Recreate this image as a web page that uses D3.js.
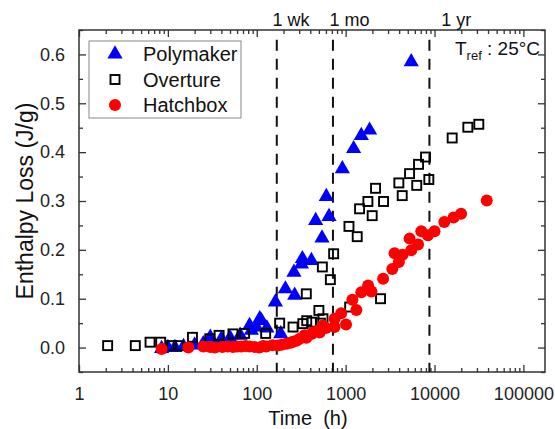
<!DOCTYPE html>
<html>
<head>
<meta charset="utf-8">
<script src="https://cdn.jsdelivr.net/npm/d3@7"></script>
<style>
  body { margin: 0; background: #fff; }
  svg { display: block; font-family: Arial, "Liberation Sans", sans-serif; }
</style>
</head>
<body>
<script>
// data: [time (h), enthalpy loss (J/g)]
var polymaker = [
  [8.5, -0.002], [10, 0.0], [12, 0.0], [15, 0.002], [20, 0.005], [25, 0.008], [30, 0.021],
  [40, 0.018], [50, 0.02], [65, 0.025], [83, 0.045], [87, 0.035], [99, 0.042], [108, 0.059],
  [113, 0.055], [130, 0.04], [162, 0.093], [186, 0.028], [210, 0.12], [262, 0.154],
  [267, 0.107], [318, 0.171], [326, 0.182], [412, 0.178], [460, 0.26], [542, 0.224],
  [606, 0.309], [650, 0.268], [918, 0.366], [1230, 0.407], [1500, 0.434], [1860, 0.445],
  [5470, 0.585]
]

var overture = [
  [2.1, 0.004], [4.3, 0.004], [6.3, 0.011], [8.3, 0.011], [11, 0.004], [13.1, 0.004],
  [18.9, 0.021], [29.6, 0.018], [37.7, 0.025], [54, 0.028], [73, 0.029], [126, 0.029],
  [181, 0.05], [256, 0.042], [330, 0.049], [361, 0.11], [365, 0.055], [418, 0.052],
  [500, 0.076], [520, 0.05], [547, 0.165], [556, 0.059], [673, 0.139], [733, 0.192],
  [1090, 0.248], [1110, 0.083], [1350, 0.227], [1435, 0.284], [1780, 0.299], [1990, 0.27],
  [2170, 0.326], [2470, 0.1], [2670, 0.299], [3970, 0.337], [4330, 0.311], [5240, 0.356],
  [6310, 0.332], [6610, 0.375], [7920, 0.39], [8630, 0.344], [15800, 0.429],
  [23700, 0.451], [31500, 0.457]
]

var hatchbox = [
  [8.5, -0.003], [17, 0.0], [25, 0.002], [30, 0.001], [34, 0.0], [41, 0.001], [47, 0.002],
  [54, 0.001], [60, 0.002], [67, 0.002], [75, 0.003], [83, 0.002], [95, 0.001], [107, 0.0],
  [118, 0.003], [128, 0.002], [150, 0.005], [172, 0.004], [190, 0.006], [215, 0.008],
  [240, 0.01], [256, 0.012], [280, 0.014], [305, 0.018], [345, 0.025], [362, 0.02],
  [412, 0.028], [430, 0.031], [490, 0.035], [510, 0.031], [556, 0.045], [600, 0.04],
  [750, 0.042], [750, 0.059], [890, 0.07], [1010, 0.047], [1190, 0.098], [1320, 0.077],
  [1500, 0.113], [1790, 0.127], [1950, 0.115], [2640, 0.141], [3350, 0.161], [3550, 0.193],
  [3970, 0.175], [4370, 0.19], [5240, 0.223], [5470, 0.199], [6530, 0.211], [7100, 0.238],
  [8410, 0.23], [10000, 0.238], [12900, 0.257], [16400, 0.266], [19900, 0.274],
  [38700, 0.301]
]

var seriesNames = ['Polymaker', 'Overture', 'Hatchbox']
var xTickValues = [1, 10, 100, 1000, 10000, 100000]
var yTickValues = [0, 0.1, 0.2, 0.3, 0.4, 0.5, 0.6]

// reference times: 1 week, 1 month, 1 year (h), with where their labels start
var markTimes = [168, 720, 8760]
var markLabels = ['1 wk', '1 mo', '1 yr']
var markLabelAt = [150, 660, 11900]

var W = 555, H = 429
var margin = {top: 30, right: 10, bottom: 57, left: 79}
var width = W - margin.left - margin.right,
    height = H - margin.top - margin.bottom

var xScale = d3.scaleLog().domain([1, 175000]).range([0, width])
var yScale = d3.scaleLinear().domain([-0.05, 0.65]).range([height, 0])

var svg = d3.select('body').append('svg')
  .attr('width', W)
  .attr('height', H)

var g = svg.append('g')
  .attr('transform', 'translate(' + margin.left + ',' + margin.top + ')')

var axisColor = '#333'

// minor tick values
var xMinor = []
for (var p = 0; p < 6; p++) {
  for (var k = 2; k <= 9; k++) {
    var v = k * Math.pow(10, p)
    if (v < 175000) xMinor.push(v)
  }
}
var yMinor = [-0.05, 0.05, 0.15, 0.25, 0.35, 0.45, 0.55, 0.65]

function styleAxis(sel) {
  sel.select('.domain').remove()
  sel.selectAll('.tick line').attr('stroke', axisColor).attr('stroke-width', 1.3)
  sel.selectAll('.tick text')
    .attr('fill', '#222')
    .style('font-size', '18px')
}

// bottom axis
g.append('g')
  .attr('transform', 'translate(0,' + height + ')')
  .call(d3.axisBottom(xScale).tickValues(xTickValues).tickFormat(d3.format('d'))
    .tickSizeInner(-7).tickSizeOuter(0).tickPadding(15))
  .call(styleAxis)

g.append('g')
  .attr('transform', 'translate(0,' + height + ')')
  .call(d3.axisBottom(xScale).tickValues(xMinor).tickFormat('').tickSizeInner(-4).tickSizeOuter(0))
  .call(styleAxis)

// top axis (mirrored ticks)
g.append('g')
  .call(d3.axisTop(xScale).tickValues(xTickValues).tickFormat('').tickSizeInner(-7).tickSizeOuter(0))
  .call(styleAxis)
g.append('g')
  .call(d3.axisTop(xScale).tickValues(xMinor).tickFormat('').tickSizeInner(-4).tickSizeOuter(0))
  .call(styleAxis)

// left axis
g.append('g')
  .call(d3.axisLeft(yScale).tickValues(yTickValues).tickFormat(d3.format('.1f'))
    .tickSizeInner(-7).tickSizeOuter(0).tickPadding(14))
  .call(styleAxis)
g.append('g')
  .call(d3.axisLeft(yScale).tickValues(yMinor).tickFormat('').tickSizeInner(-4).tickSizeOuter(0))
  .call(styleAxis)

// right axis
g.append('g')
  .attr('transform', 'translate(' + width + ',0)')
  .call(d3.axisRight(yScale).tickValues(yTickValues).tickFormat('').tickSizeInner(-7).tickSizeOuter(0))
  .call(styleAxis)
g.append('g')
  .attr('transform', 'translate(' + width + ',0)')
  .call(d3.axisRight(yScale).tickValues(yMinor).tickFormat('').tickSizeInner(-4).tickSizeOuter(0))
  .call(styleAxis)

// frame
g.append('rect')
  .attr('width', width)
  .attr('height', height)
  .attr('fill', 'none')
  .attr('stroke', axisColor)
  .attr('stroke-width', 1.5)

// dashed reference lines
g.selectAll('.mark')
  .data(markTimes)
  .enter().append('line')
  .attr('class', 'mark')
  .attr('x1', function(d) { return xScale(d) })
  .attr('x2', function(d) { return xScale(d) })
  .attr('y1', yScale(0.63))
  .attr('y2', height)
  .attr('stroke', '#111')
  .attr('stroke-width', 2)
  .attr('stroke-dasharray', '11,8')

g.selectAll('.markLabel')
  .data(markLabels)
  .enter().append('text')
  .attr('class', 'markLabel')
  .attr('x', function(d, i) { return xScale(markLabelAt[i]) })
  .attr('y', -4)
  .style('font-size', '18px')
  .attr('fill', '#111')
  .text(function(d) { return d })

// points
var tri = d3.symbol().type(d3.symbolTriangle).size(100)

g.append('g').selectAll('path')
  .data(polymaker)
  .enter().append('path')
  .attr('d', tri)
  .attr('transform', function(d) { return 'translate(' + xScale(d[0]) + ',' + yScale(d[1]) + ')' })
  .attr('fill', '#0000ff')

g.append('g').selectAll('rect')
  .data(overture)
  .enter().append('rect')
  .attr('x', function(d) { return xScale(d[0]) - 4.5 })
  .attr('y', function(d) { return yScale(d[1]) - 4.5 })
  .attr('width', 9)
  .attr('height', 9)
  .attr('fill', 'none')
  .attr('stroke', '#000')
  .attr('stroke-width', 1.9)

g.append('g').selectAll('circle')
  .data(hatchbox)
  .enter().append('circle')
  .attr('cx', function(d) { return xScale(d[0]) })
  .attr('cy', function(d) { return yScale(d[1]) })
  .attr('r', 6)
  .attr('fill', '#ff0000')

// legend
var legend = svg.append('g').attr('transform', 'translate(89,41)')
legend.append('rect')
  .attr('width', 152)
  .attr('height', 77)
  .attr('fill', '#fff')
  .attr('stroke', '#888')
  .attr('stroke-width', 1)

var legendRows = legend.selectAll('.row')
  .data(seriesNames)
  .enter().append('g')
  .attr('class', 'row')
  .attr('transform', function(d, i) { return 'translate(26,' + (13 + i * 25.5) + ')' })

legendRows.each(function(d, i) {
  var row = d3.select(this)
  if (i === 0) {
    row.append('path').attr('d', tri).attr('fill', '#0000ff')
  } else if (i === 1) {
    row.append('rect').attr('x', -4.5).attr('y', -4.5).attr('width', 9).attr('height', 9)
      .attr('fill', 'none').attr('stroke', '#000').attr('stroke-width', 1.9)
  } else {
    row.append('circle').attr('r', 6).attr('fill', '#ff0000')
  }
  row.append('text')
    .attr('x', 28)
    .attr('y', 7)
    .style('font-size', '20px')
    .attr('fill', '#111')
    .text(d)
})

// T_ref note
var tref = svg.append('text')
  .attr('x', 455)
  .attr('y', 55)
  .style('font-size', '19px')
  .attr('fill', '#111')
tref.append('tspan').text('T')
tref.append('tspan').attr('dy', 5).style('font-size', '13px').text('ref')
tref.append('tspan').attr('dy', -5).text(' : 25°C')

// axis titles
svg.append('text')
  .attr('x', 308)
  .attr('y', 425)
  .attr('text-anchor', 'middle')
  .style('font-size', '20px')
  .style('white-space', 'pre')
  .attr('fill', '#111')
  .text('Time  (h)')

svg.append('text')
  .attr('transform', 'translate(33,201) rotate(-90)')
  .attr('text-anchor', 'middle')
  .style('font-size', '23px')
  .attr('fill', '#111')
  .text('Enthalpy Loss (J/g)')
</script>
</body>
</html>
